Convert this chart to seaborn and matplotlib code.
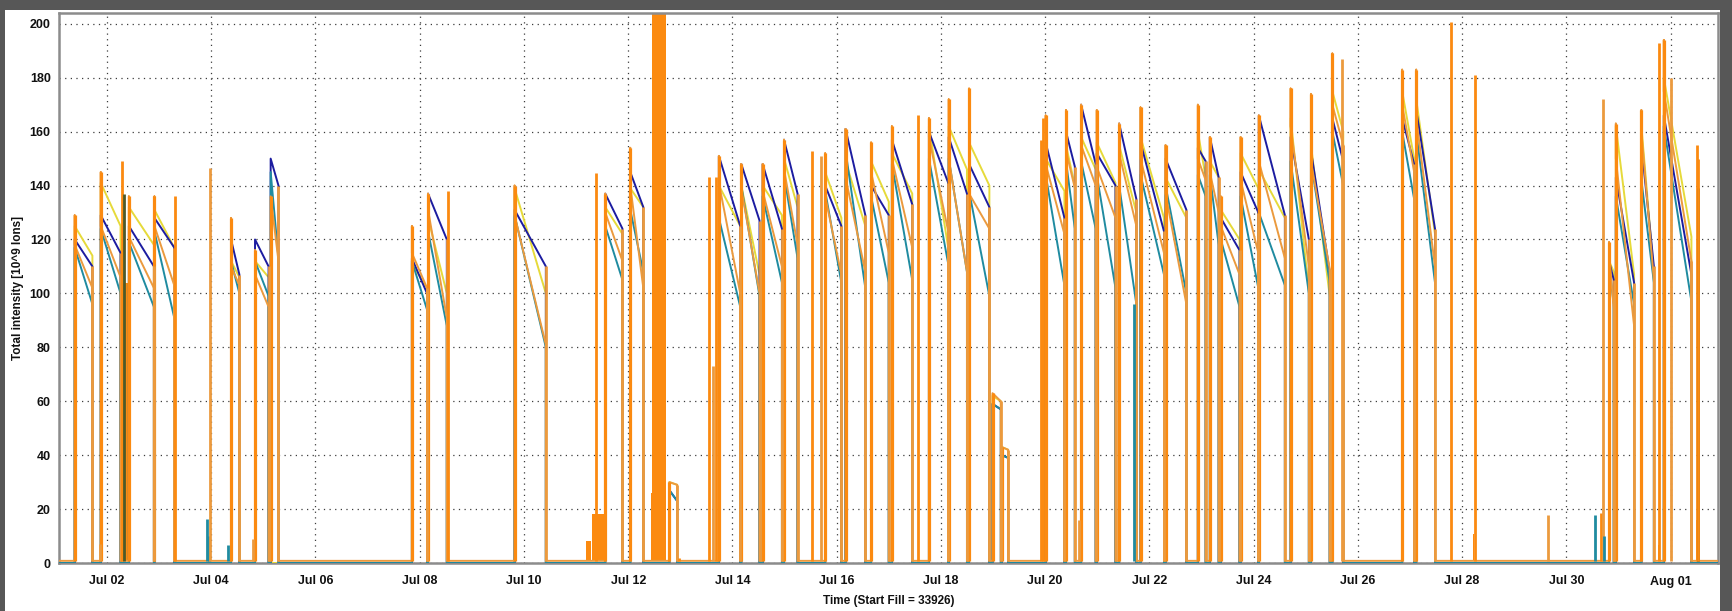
import numpy as np
import pandas as pd
import matplotlib
matplotlib.use("Agg")
import matplotlib.pyplot as plt
import matplotlib.dates as mdates
from matplotlib.ticker import MultipleLocator
from matplotlib.patches import Rectangle
import seaborn as sns

# time axis: days after Jul 01 00:00
T0 = pd.Timestamp("2012-07-01")
BASE = 0.8          # orange level between fills
nan = np.nan

# ---- fills: start / end (days) and intensities ----
fill_on = [0.38, 0.88, 1.42, 1.91, 3.38, 3.84, 4.14, 6.85, 7.16, 8.82,
           10.56, 11.04, 11.79, 12.74, 13.17, 13.58, 13.99, 14.78, 15.17, 15.66,
           16.06, 16.77, 17.15, 17.54, 17.99, 18.17, 19.01, 19.40, 19.69, 19.99,
           20.42, 20.83, 21.31, 21.93, 22.16, 22.37, 22.75, 23.10, 23.71, 24.10,
           24.51, 25.85, 26.12, 29.82, 29.95, 30.44, 30.87]
fill_off = [0.72, 1.26, 1.90, 2.29, 3.54, 4.10, 4.29, 7.14, 7.52, 9.42,
            10.89, 11.29, 11.94, 13.15, 13.52, 13.95, 14.25, 15.09, 15.55, 16.00,
            16.45, 17.14, 17.50, 17.93, 18.15, 18.29, 19.37, 19.57, 19.97, 20.35,
            20.75, 21.28, 21.71, 22.08, 22.33, 22.73, 23.09, 23.60, 24.06, 24.46,
            24.72, 26.08, 26.48, 29.91, 30.30, 30.68, 31.40]
fill_peak = [129, 145, 136, 136, 128, 116, 136, 125, 137, 140,
             137, 154, 30, 151, 148, 148, 157, 152, 161, 156,
             162, 165, 172, 176, 63, 43, 166, 168, 170, 168,
             163, 169, 155, 170, 158, 136, 158, 166, 176, 174,
             189, 183, 183, 119, 163, 168, 194]
navy_start = [120, 129, 125, 128, 120, 120, 150, 113, 137, 131,
              137, 145, 27, 151, 148, 148, 157, 140, 161, 140,
              157, 160, 158, 148, 59, 40, 156, 160, 170, 152,
              163, 156, 150, 154, 158, 128, 145, 166, 158, 153,
              165, 165, 168, 112, 143, 155, 166]
navy_end = [110, 115, 110, 117, 107, 110, 140, 100, 120, 110,
            124, 132, 23, 125, 127, 124, 137, 125, 129, 129,
            133, 141, 137, 132, 57, 39, 128, 147, 148, 140,
            135, 123, 131, 149, 143, 116, 130, 129, 120, 108,
            149, 148, 124, 105, 104, 110, 107]
teal_start = [117, 124, 119, 123, 112, 112, 145, 112, 123, 129,
              125, 131, 27, 128, 140, 136, 144, 138, 153, 136,
              148, 150, 150, 138, 59, 40, 144, 149, 149, 144,
              140, 144, 140, 144, 144, 120, 136, 130, 149, 149,
              160, 160, 160, 110, 136, 142, 162]
teal_end = [96, 100, 95, 91, 100, 99, 113, 94, 88, 80,
            105, 108, 23, 95, 99, 104, 113, 104, 102, 104,
            105, 111, 108, 99, 57, 39, 103, 124, 124, 102,
            96, 107, 100, 136, 118, 95, 102, 103, 100, 104,
            140, 135, 104, 96, 96, 104, 97]
yellow_start = [125, 141, 132, 131, 112, 112, nan, 111, 128, 139,
                132, 139, 30, 140, 140, 140, 150, 145, 149, 149,
                152, 162, 162, 156, 62, 43, 150, 155, 158, 156,
                155, 158, 143, 160, 149, 131, 152, 146, 165, 155,
                175, 175, 172, 112, 162, 162, 180]
yellow_end = [114, 125, 118, 117, 106, 106, nan, 102, 100, 100,
              122, 132, 29, 125, 107, 129, 132, 128, 125, 134,
              137, 117, 146, 140, 60, 42, 138, 140, 146, 141,
              130, 128, 128, 143, 143, 120, 139, 128, 101, 99,
              160, 150, 122, 108, 107, 107, 121]
orange_start = [118, 125, 121, 125, 110, 107, 136, 115, 131, 129,
                130, 140, 30, 141, 139, 138, 146, 136, 143, 145,
                150, 158, 150, 137, 63, 43, 148, 153, 155, 147,
                152, 150, 137, 150, 145, 125, 142, 149, 162, 149,
                170, 170, 165, 115, 150, 160, 175]
orange_end = [102, 106, 102, 103, 103, 95, 112, 102, 91, 81,
              112, 102, 29, 100, 100, 110, 118, 107, 108, 115,
              117, 123, 108, 124, 60, 42, 122, 139, 140, 128,
              125, 115, 96, 142, 130, 107, 115, 113, 110, 109,
              155, 145, 110, 94, 88, 105, 112]

# ---- short injection spikes without a fill ----
spike_t = [0.86, 1.28, 1.33, 2.30, 2.92, 2.95, 2.98, 3.32, 3.81, 7.55,
           10.39, 11.97, 12.55, 12.63, 12.68, 14.53, 14.70, 16.56, 18.93, 18.96,
           19.65, 20.70, 24.70, 26.78, 27.25, 28.65, 29.55, 29.66, 29.70, 29.73,
           30.78, 31.00, 31.50, 31.52, 31.53]
spike_v = [7, 149, 137, 136, 16.5, 10, 146.5, 6.6, 9, 138,
           144.5, 2, 143, 73, 143, 153, 151, 166, 157, 165,
           16, 96, 187, 200.7, 181, 17.8, 17.8, 18.5, 172, 10,
           192.7, 180, 155, 139, 150]
spike_kind = ["tan", "orange", "olive", "orange", "teal", "teal", "tan", "teal", "tan", "orange",
              "orange", "orange", "orange", "tan", "orange", "orange", "tan", "orange", "orange", "orange",
              "tan", "teal", "tan", "orange", "orange", "tan", "teal", "orange", "tan", "teal",
              "orange", "tan", "orange", "olive", "orange"]

# ---- dense injection bursts (drawn as solid blocks) ----
burst_on = [1.27, 10.20, 10.30, 11.43, 11.45, 18.93, 27.20, 30.76, 31.48]
burst_off = [1.41, 10.29, 10.55, 11.45, 11.72, 19.00, 27.23, 30.79, 31.55]
burst_level = [104, 8, 18, 26, 260, 150, 10.6, 6.6, 15.8]

COLORS = {"navy": "#1c1ca0", "teal": "#1f8ba0", "yellow": "#e6da3a",
          "orange": "#fb8a10", "tan": "#eb9a3e", "olive": "#4d5a2a"}


def to_dates(days):
    return T0 + pd.to_timedelta(np.asarray(days, dtype=float), unit="D")


def trace(v0, v1, peak=None, base=0.0):
    xs, ys = [0.0], [base]
    for i, (a, b) in enumerate(zip(fill_on, fill_off)):
        if np.isnan(v0[i]):
            continue
        if peak is None:
            xs += [a, a, b, b]
            ys += [base, v0[i], v1[i], base]
        else:
            xs += [a, a, a, b, b]
            ys += [base, peak[i], v0[i], v1[i], base]
    xs.append(32.0)
    ys.append(base)
    return to_dates(xs), np.array(ys, dtype=float)


def main():
    sns.set_theme(style="white")
    plt.rcParams["font.family"] = ["Liberation Sans", "DejaVu Sans"]

    W, H = 1732, 611
    fig = plt.figure(figsize=(W / 100, H / 100), dpi=100, facecolor="#575757")
    fig.patches.append(Rectangle((5 / W, 0), (1720 - 5) / W, 1 - 10 / H,
                                 transform=fig.transFigure, facecolor="white",
                                 edgecolor="none", zorder=-10))
    ax = fig.add_axes([59 / W, 1 - 563 / H, (1718 - 59) / W, (563 - 13) / H])
    ax.set_zorder(1)
    ax.set_facecolor("white")

    # bursts
    for a, b, lv in zip(burst_on, burst_off, burst_level):
        ax.fill_between(to_dates([a, b]), BASE, lv, color=COLORS["orange"],
                        lw=0, zorder=2)

    # decaying beam intensities
    for name, v0, v1 in [("yellow", yellow_start, yellow_end),
                         ("navy", navy_start, navy_end),
                         ("teal", teal_start, teal_end)]:
        dx, dy = trace(v0, v1)
        sns.lineplot(x=dx, y=dy, ax=ax, sort=False, estimator=None,
                     color=COLORS[name], linewidth=1.4, legend=False, zorder=3)
    dx, dy = trace(orange_start, orange_end, fill_peak, base=BASE)
    sns.lineplot(x=dx, y=dy, ax=ax, sort=False, estimator=None,
                 color=COLORS["tan"], linewidth=1.4, legend=False, zorder=4)

    # injection rises and dumps
    ax.vlines(to_dates(fill_on), BASE, fill_peak, color=COLORS["orange"],
              lw=2.3, zorder=5)
    dump_top = np.nanmax(np.vstack([navy_end, teal_end, orange_end]), axis=0)
    ax.vlines(to_dates(fill_off), BASE, dump_top, color=COLORS["tan"],
              lw=2.0, zorder=5)
    ax.vlines(to_dates(spike_t), BASE, spike_v,
              colors=[COLORS[k] for k in spike_kind], lw=2.0, zorder=5)

    # axes
    ax.set_xlim(to_dates([0.079])[0], to_dates([31.91])[0])
    ax.set_ylim(0, 204)
    ax.set_xticks(pd.date_range("2012-07-02", "2012-08-01", freq="2D"))
    ax.xaxis.set_major_formatter(mdates.DateFormatter("%b %d"))
    ax.xaxis.set_minor_locator(mdates.DayLocator())
    ax.set_yticks(range(0, 201, 20))
    ax.yaxis.set_minor_locator(MultipleLocator(10))

    ax.grid(True, which="major", color="#3c3c3c", linestyle=(0, (1, 3.5)), lw=0.9)
    ax.set_axisbelow(True)
    for sp in ax.spines.values():
        sp.set_color("#8c8c8c")
        sp.set_linewidth(1.8)

    ax.tick_params(axis="both", which="both", colors="#333333",
                   labelcolor="#111111", labelsize=9)
    ax.tick_params(axis="x", which="major", direction="out", length=3, pad=6)
    ax.tick_params(axis="x", which="minor", direction="inout", length=4)
    ax.tick_params(axis="y", which="major", direction="out", length=4, pad=2)
    ax.tick_params(axis="y", which="minor", direction="out", length=3)
    for lab in ax.get_xticklabels() + ax.get_yticklabels():
        lab.set_fontweight("bold")

    ax.set_xlabel("Time (Start Fill = 33926)", fontsize=8.5, fontweight="bold",
                  color="#111111")
    ax.set_ylabel("Total intensity [10^9 Ions]", fontsize=8.5, fontweight="bold",
                  color="#111111")
    ax.xaxis.set_label_coords(0.5, -0.058)
    ax.yaxis.set_label_coords(-0.021, 0.5)

    fig.savefig("out.png", dpi=100, facecolor=fig.get_facecolor())


if __name__ == "__main__":
    main()
